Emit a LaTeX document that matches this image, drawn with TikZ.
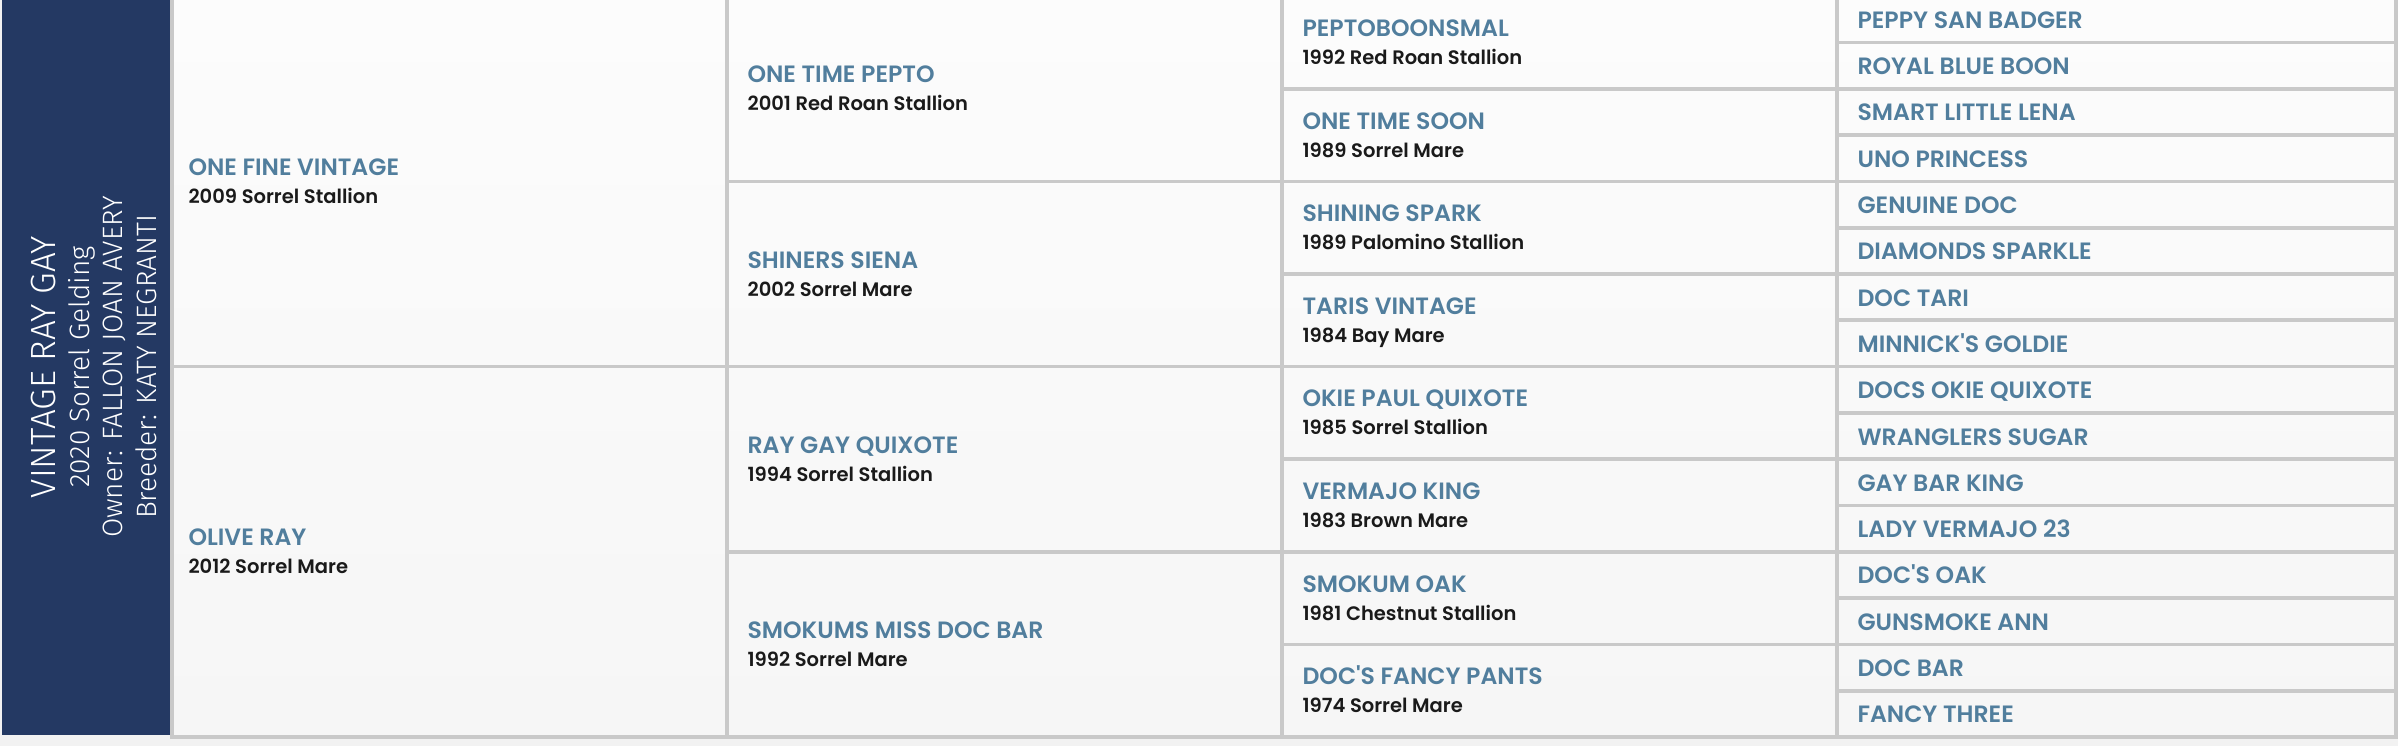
\documentclass[tikz,border=0pt]{standalone}
\usepackage{fontspec}
\usepackage{tikz}
\usetikzlibrary{calc, positioning}
\newfontfamily\nameFont{Poppins SemiBold}
\newfontfamily\panelFont{Fira Sans Light}
\definecolor{navyPanel}{HTML}{243963}
\definecolor{nameBlue}{HTML}{517E9D}
\definecolor{detailBlack}{HTML}{1A1A1A}
\definecolor{gridGray}{HTML}{C9C9C9}
\definecolor{pageBg}{HTML}{F2F2F2}
\definecolor{cellTop}{HTML}{FCFCFC}
\definecolor{cellBottom}{HTML}{F6F6F6}
\tikzset{
    pedCell/.style={rectangle, draw=gridGray, line width=1.85pt, inner sep=0pt},
    nameText/.style={font=\nameFont\fontsize{11.8}{14}\selectfont, text=nameBlue, inner sep=0pt, anchor=base west},
    detailText/.style={font=\nameFont\fontsize{9.75}{11}\selectfont, text=detailBlack, inner sep=0pt, anchor=base west},
    panelTitle/.style={font=\panelFont\fontsize{17.5}{19}\selectfont, text=white, inner sep=0pt, rotate=90, anchor=base},
    panelLine/.style={font=\panelFont\fontsize{14}{16}\selectfont, text=white, inner sep=0pt, rotate=90, anchor=base},
}
% 格子: 名字, 左边x, 右边x, 起始行, 行数
\newcommand{\horseCell}[5]{
    \node[pedCell, minimum width={(#3-#2)*0.5pt}, minimum height={#5*23.15pt}]
        (#1) at ({(#2+#3)/2}, {-3.8+46.3*(#4+#5/2)}) {};
}
% 两行: 马名 + 出生年份
\newcommand{\horseName}[4][22]{
    \node[nameText] (#2n) at ($(#2.west)+(#1,-6)$) {#3};
    \node[detailText] (#2d) at ($(#2.west)+(#1,22)$) {#4};
}
% 最后一列只有马名
\newcommand{\horseLeaf}[2]{
    \node[nameText] (#1n) at ($(#1.west)+(22,9)$) {#2};
}

\begin{document}
\begin{tikzpicture}[x=0.5pt, y=-0.5pt]

        \fill[pageBg] (0,0) rectangle (2398,746);
        \useasboundingbox (0,0) rectangle (2398,746);
        \fill[top color=cellTop, bottom color=cellBottom] (172,0) rectangle (2396,737);

        % 左边的主马
        \node[fill=navyPanel, inner sep=0pt, minimum width=84pt, minimum height=369.5pt] (subject) at (86,365.5) {};
        \node[panelTitle] (title) at (55,367) {VINTAGE RAY GAY};
        \node[panelLine] (birth) at (89,367) {2020 Sorrel Gelding};
        \node[panelLine] (owner) at (122,367) {Owner: FALLON JOAN AVERY};
        \node[panelLine] (breeder) at (156,367) {Breeder: KATY NEGRANTI};

        \horseCell{s}{172}{727}{0}{8}
        \horseCell{d}{172}{727}{8}{8}
        \horseName[18]{s}{ONE FINE VINTAGE}{2009 Sorrel Stallion}
        \horseName[18]{d}{OLIVE RAY}{2012 Sorrel Mare}

        \horseCell{ss}{727}{1282}{0}{4}
        \horseCell{sd}{727}{1282}{4}{4}
        \horseCell{ds}{727}{1282}{8}{4}
        \horseCell{dd}{727}{1282}{12}{4}
        \horseName{ss}{ONE TIME PEPTO}{2001 Red Roan Stallion}
        \horseName{sd}{SHINERS SIENA}{2002 Sorrel Mare}
        \horseName{ds}{RAY GAY QUIXOTE}{1994 Sorrel Stallion}
        \horseName{dd}{SMOKUMS MISS DOC BAR}{1992 Sorrel Mare}

        \horseCell{sss}{1282}{1837}{0}{2}
        \horseCell{ssd}{1282}{1837}{2}{2}
        \horseCell{sds}{1282}{1837}{4}{2}
        \horseCell{sdd}{1282}{1837}{6}{2}
        \horseCell{dss}{1282}{1837}{8}{2}
        \horseCell{dsd}{1282}{1837}{10}{2}
        \horseCell{dds}{1282}{1837}{12}{2}
        \horseCell{ddd}{1282}{1837}{14}{2}
        \horseName{sss}{PEPTOBOONSMAL}{1992 Red Roan Stallion}
        \horseName{ssd}{ONE TIME SOON}{1989 Sorrel Mare}
        \horseName{sds}{SHINING SPARK}{1989 Palomino Stallion}
        \horseName{sdd}{TARIS VINTAGE}{1984 Bay Mare}
        \horseName{dss}{OKIE PAUL QUIXOTE}{1985 Sorrel Stallion}
        \horseName{dsd}{VERMAJO KING}{1983 Brown Mare}
        \horseName{dds}{SMOKUM OAK}{1981 Chestnut Stallion}
        \horseName{ddd}{DOC\textquotesingle S FANCY PANTS}{1974 Sorrel Mare}

        \horseCell{g1}{1837}{2396}{0}{1}
        \horseCell{g2}{1837}{2396}{1}{1}
        \horseCell{g3}{1837}{2396}{2}{1}
        \horseCell{g4}{1837}{2396}{3}{1}
        \horseCell{g5}{1837}{2396}{4}{1}
        \horseCell{g6}{1837}{2396}{5}{1}
        \horseCell{g7}{1837}{2396}{6}{1}
        \horseCell{g8}{1837}{2396}{7}{1}
        \horseCell{g9}{1837}{2396}{8}{1}
        \horseCell{g10}{1837}{2396}{9}{1}
        \horseCell{g11}{1837}{2396}{10}{1}
        \horseCell{g12}{1837}{2396}{11}{1}
        \horseCell{g13}{1837}{2396}{12}{1}
        \horseCell{g14}{1837}{2396}{13}{1}
        \horseCell{g15}{1837}{2396}{14}{1}
        \horseCell{g16}{1837}{2396}{15}{1}
        \horseLeaf{g1}{PEPPY SAN BADGER}
        \horseLeaf{g2}{ROYAL BLUE BOON}
        \horseLeaf{g3}{SMART LITTLE LENA}
        \horseLeaf{g4}{UNO PRINCESS}
        \horseLeaf{g5}{GENUINE DOC}
        \horseLeaf{g6}{DIAMONDS SPARKLE}
        \horseLeaf{g7}{DOC TARI}
        \horseLeaf{g8}{MINNICK\textquotesingle S GOLDIE}
        \horseLeaf{g9}{DOCS OKIE QUIXOTE}
        \horseLeaf{g10}{WRANGLERS SUGAR}
        \horseLeaf{g11}{GAY BAR KING}
        \horseLeaf{g12}{LADY VERMAJO 23}
        \horseLeaf{g13}{DOC\textquotesingle S OAK}
        \horseLeaf{g14}{GUNSMOKE ANN}
        \horseLeaf{g15}{DOC BAR}
        \horseLeaf{g16}{FANCY THREE}

    \end{tikzpicture}
\end{document}
